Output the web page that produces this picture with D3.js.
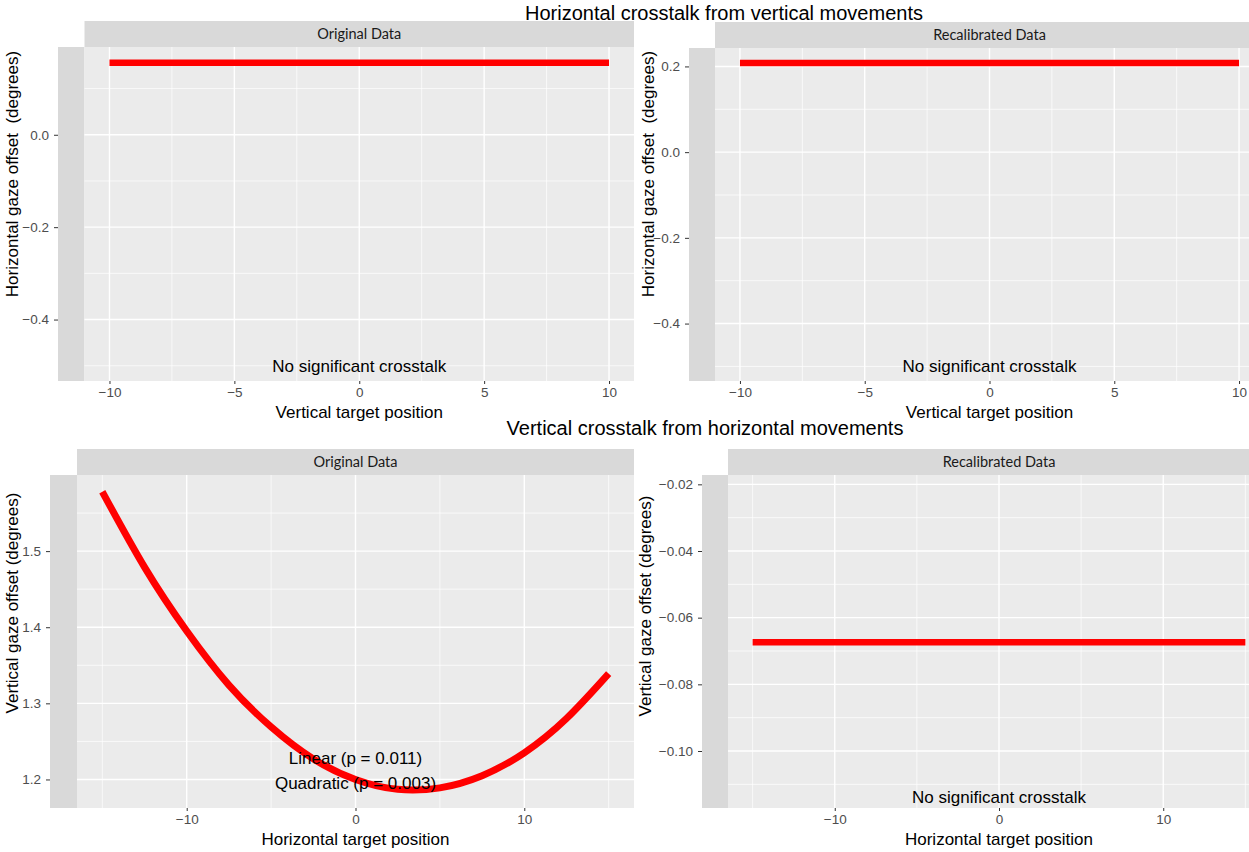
<!DOCTYPE html>
<html>
<head>
<meta charset="utf-8">
<script src="https://cdn.jsdelivr.net/npm/d3@7"></script>
<style>
body { margin: 0; background: #fff; }
text { font-family: "Liberation Sans", Arial, sans-serif; white-space: pre; }
.strip text { font-family: Lato, "Open Sans", sans-serif; }
</style>
</head>
<body>
<div id="chart"></div>
<script>
// values
var titles = ["Horizontal crosstalk from vertical movements", "Vertical crosstalk from horizontal movements"];
var stripLabels = ["Original Data", "Recalibrated Data"];

var vertTargetTicks = [-10, -5, 0, 5, 10];
var horizTargetTicks = [-10, 0, 10];

var origHorizYTicks = [-0.4, -0.2, 0.0];
var recalHorizYTicks = [-0.4, -0.2, 0.0, 0.2];
var origVertYTicks = [1.2, 1.3, 1.4, 1.5];
var recalVertYTicks = [-0.10, -0.08, -0.06, -0.04, -0.02];

var origHorizX = [-10, 10];
var origHorizY = [0.156, 0.156];
var recalHorizX = [-10, 10];
var recalHorizY = [0.208, 0.208];

var origVertX = [-15, -12.5, -10, -7.5, -5, -2.5, 0, 2.5, 5, 7.5, 10, 12.5, 15];
var origVertY = [1.578, 1.479, 1.395, 1.324, 1.269, 1.227, 1.200, 1.187, 1.189, 1.205, 1.235, 1.280, 1.339];
var recalVertX = [-15, 15];
var recalVertY = [-0.0674, -0.0674];

var width = 1249, height = 852;

var svg = d3.select("#chart").append("svg")
    .attr("width", width)
    .attr("height", height);

// super titles
svg.append("text")
    .attr("x", 724).attr("y", 20)
    .attr("text-anchor", "middle")
    .style("font-size", "20px")
    .text(titles[0]);
svg.append("text")
    .attr("x", 705).attr("y", 435)
    .attr("text-anchor", "middle")
    .style("font-size", "20px")
    .text(titles[1]);

var panels = [
    {band: 58, left: 84.5, right: 634, top: 47, bottom: 381, stripTop: 21,
        xDomain: [-11, 11], yDomain: [-0.533, 0.19], xTicks: vertTargetTicks, yTicks: origHorizYTicks, yFmt: ".1f",
        xs: origHorizX, ys: origHorizY, strip: stripLabels[0], curved: false,
        xTitle: "Vertical target position", yTitle: "Horizontal gaze offset  (degrees)", yTitleX: 12, yTitleY: 174,
        notes: [{text: "No significant crosstalk", x: 0, y: -0.5}]},
    {band: 689, left: 715, right: 1264, top: 48, bottom: 381, stripTop: 22,
        xDomain: [-11, 11], yDomain: [-0.534, 0.243], xTicks: vertTargetTicks, yTicks: recalHorizYTicks, yFmt: ".1f",
        xs: recalHorizX, ys: recalHorizY, strip: stripLabels[1], curved: false,
        xTitle: "Vertical target position", yTitle: "Horizontal gaze offset  (degrees)", yTitleX: 648, yTitleY: 174,
        notes: [{text: "No significant crosstalk", x: 0, y: -0.5}]},
    {band: 50, left: 77, right: 634, top: 475, bottom: 808, stripTop: 449,
        xDomain: [-16.5, 16.5], yDomain: [1.1625, 1.6], xTicks: horizTargetTicks, yTicks: origVertYTicks, yFmt: ".1f",
        xs: origVertX, ys: origVertY, strip: stripLabels[0], curved: true,
        xTitle: "Horizontal target position", yTitle: "Vertical gaze offset (degrees)", yTitleX: 12, yTitleY: 603,
        notes: [{text: "Linear (p = 0.011)", x: 0, y: 1.228}, {text: "Quadratic (p = 0.003)", x: 0, y: 1.195}]},
    {band: 702, left: 728, right: 1270, top: 475, bottom: 808, stripTop: 449,
        xDomain: [-16.5, 16.5], yDomain: [-0.1171, -0.0172], xTicks: horizTargetTicks, yTicks: recalVertYTicks, yFmt: ".2f",
        xs: recalVertX, ys: recalVertY, strip: stripLabels[1], curved: false,
        xTitle: "Horizontal target position", yTitle: "Vertical gaze offset (degrees)", yTitleX: 645, yTitleY: 606,
        notes: [{text: "No significant crosstalk", x: 0, y: -0.1137}]}
];

// minor breaks sit halfway between the major ones (ggplot default)
function minorBreaks(ticks, domain) {
    var step = ticks[1] - ticks[0];
    var out = ticks.map(function (t) { return t - step / 2; });
    out.push(ticks[ticks.length - 1] + step / 2);
    out.push(ticks[0] - step * 1.5);
    out.push(ticks[ticks.length - 1] + step * 1.5);
    return out.filter(function (v) { return v > domain[0] && v < domain[1]; });
}

panels.forEach(function (p) {
    var x = d3.scaleLinear().domain(p.xDomain).range([p.left, p.right]);
    var y = d3.scaleLinear().domain(p.yDomain).range([p.bottom, p.top]);
    var g = svg.append("g").attr("class", "panel");

    // grey band left of the panel and the strip above it
    g.append("rect")
        .attr("x", p.band).attr("y", p.top)
        .attr("width", p.left - p.band).attr("height", p.bottom - p.top)
        .attr("fill", "#d9d9d9");
    g.append("rect")
        .attr("x", p.left).attr("y", p.top)
        .attr("width", p.right - p.left).attr("height", p.bottom - p.top)
        .attr("fill", "#ebebeb");

    var strip = g.append("g").attr("class", "strip");
    strip.append("rect")
        .attr("x", p.left).attr("y", p.stripTop)
        .attr("width", p.right - p.left).attr("height", p.top - p.stripTop)
        .attr("fill", "#d9d9d9");
    strip.append("text")
        .attr("x", x(0))
        .attr("y", (p.stripTop + p.top) / 2)
        .attr("dy", "0.35em")
        .attr("text-anchor", "middle")
        .style("font-size", "14.5px")
        .attr("fill", "#1a1a1a")
        .text(p.strip);

    // grid
    var xMinor = minorBreaks(p.xTicks, p.xDomain);
    var yMinor = minorBreaks(p.yTicks, p.yDomain);
    g.selectAll("line.xminor").data(xMinor).enter().append("line")
        .attr("x1", function (d) { return x(d); }).attr("x2", function (d) { return x(d); })
        .attr("y1", p.top).attr("y2", p.bottom)
        .attr("stroke", "#fff").attr("stroke-width", 0.7);
    g.selectAll("line.yminor").data(yMinor).enter().append("line")
        .attr("x1", p.left).attr("x2", p.right)
        .attr("y1", function (d) { return y(d); }).attr("y2", function (d) { return y(d); })
        .attr("stroke", "#fff").attr("stroke-width", 0.7);
    g.selectAll("line.xmajor").data(p.xTicks).enter().append("line")
        .attr("x1", function (d) { return x(d); }).attr("x2", function (d) { return x(d); })
        .attr("y1", p.top).attr("y2", p.bottom)
        .attr("stroke", "#fff").attr("stroke-width", 1.4);
    g.selectAll("line.ymajor").data(p.yTicks).enter().append("line")
        .attr("x1", p.left).attr("x2", p.right)
        .attr("y1", function (d) { return y(d); }).attr("y2", function (d) { return y(d); })
        .attr("stroke", "#fff").attr("stroke-width", 1.4);

    // axes
    var xAxis = d3.axisBottom(x).tickValues(p.xTicks).tickSize(3).tickPadding(3).tickFormat(d3.format("d"));
    g.append("g")
        .attr("transform", "translate(0," + p.bottom + ")")
        .call(xAxis)
        .call(function (a) {
            a.select(".domain").remove();
            a.selectAll("line").attr("stroke", "#333");
            a.selectAll("text").attr("fill", "#4d4d4d").style("font-size", "13.5px")
                .style("font-family", "'Liberation Sans', Arial, sans-serif");
        });

    var yAxis = d3.axisLeft(y).tickValues(p.yTicks).tickSize(4).tickPadding(5).tickFormat(d3.format(p.yFmt));
    g.append("g")
        .attr("transform", "translate(" + p.band + ",0)")
        .call(yAxis)
        .call(function (a) {
            a.select(".domain").remove();
            a.selectAll("line").attr("stroke", "#333");
            a.selectAll("text").attr("fill", "#4d4d4d").style("font-size", "13.5px")
                .style("font-family", "'Liberation Sans', Arial, sans-serif");
        });

    // fitted line
    var pts = p.xs.map(function (v, i) { return [v, p.ys[i]]; });
    var line = d3.line()
        .x(function (d) { return x(d[0]); })
        .y(function (d) { return y(d[1]); })
        .curve(p.curved ? d3.curveNatural : d3.curveLinear);
    g.append("path")
        .attr("d", line(pts))
        .attr("fill", "none")
        .attr("stroke", "#ff0000")
        .attr("stroke-width", p.curved ? 7 : 6.5);

    // annotations
    g.selectAll("text.note").data(p.notes).enter().append("text")
        .attr("class", "note")
        .attr("x", function (d) { return x(d.x); })
        .attr("y", function (d) { return y(d.y); })
        .attr("dy", "0.35em")
        .attr("text-anchor", "middle")
        .style("font-size", "17px")
        .text(function (d) { return d.text; });

    // axis titles
    g.append("text")
        .attr("x", x(0))
        .attr("y", p.bottom + 37)
        .attr("text-anchor", "middle")
        .style("font-size", "17px")
        .text(p.xTitle);
    g.append("text")
        .attr("transform", "translate(" + (p.yTitleX + 6) + "," + p.yTitleY + ") rotate(-90)")
        .attr("text-anchor", "middle")
        .style("font-size", "17px")
        .text(p.yTitle);
});
</script>
</body>
</html>
